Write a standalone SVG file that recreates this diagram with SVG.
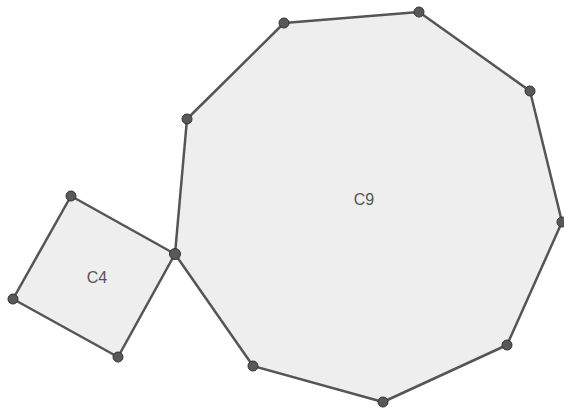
<svg xmlns="http://www.w3.org/2000/svg" width="564" height="411" viewBox="0 0 564 411">
<style>
.poly{fill:#eeeeee;stroke:#555555;stroke-width:2.5;stroke-linejoin:round}
.pt{fill:#595959;stroke:#333333;stroke-width:1}
.lbl{font-family:"Liberation Sans",Arial,sans-serif;font-size:16px;fill:#555555;text-anchor:middle;dominant-baseline:central}
</style>
<rect width="564" height="411" fill="#ffffff"/>
<g id="C9">
<polygon class="poly" points="175,254 187,119 284,23 419,12 530,91 562,222 507,345 383,402 253,366"/>
<text class="lbl" x="364" y="199">C9</text>
</g>
<g id="C4">
<polygon class="poly" points="175,254 71,196 13,299 118,357"/>
<text class="lbl" x="97" y="277">C4</text>
</g>
<g id="points">
<circle class="pt" cx="187" cy="119" r="5"/>
<circle class="pt" cx="284" cy="23" r="5"/>
<circle class="pt" cx="419" cy="12" r="5"/>
<circle class="pt" cx="530" cy="91" r="5"/>
<circle class="pt" cx="562" cy="222" r="5"/>
<circle class="pt" cx="507" cy="345" r="5"/>
<circle class="pt" cx="383" cy="402" r="5"/>
<circle class="pt" cx="253" cy="366" r="5"/>
<circle class="pt" cx="71" cy="196" r="5"/>
<circle class="pt" cx="13" cy="299" r="5"/>
<circle class="pt" cx="118" cy="357" r="5"/>
<circle class="pt" cx="175" cy="254" r="5.5"/>
</g>
</svg>
